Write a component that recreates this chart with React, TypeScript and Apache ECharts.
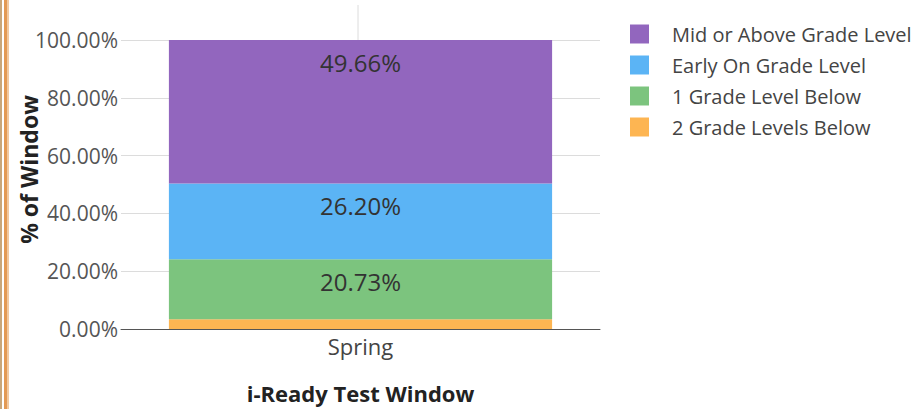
import React, { useEffect, useRef } from "react";
import * as echarts from "echarts";

const categories = ["Spring"];
const seriesNames = [
  "2 Grade Levels Below",
  "1 Grade Level Below",
  "Early On Grade Level",
  "Mid or Above Grade Level",
];
const twoBelow = [3.41];
const oneBelow = [20.73];
const earlyOn = [26.2];
const midAbove = [49.66];
const colors = ["#FDB552", "#7CC47E", "#5BB4F5", "#9266BE"];
const legendOrder = [
  "Mid or Above Grade Level",
  "Early On Grade Level",
  "1 Grade Level Below",
  "2 Grade Levels Below",
];

const FONT = "'Open Sans', 'Noto Sans', sans-serif";

export default function App() {
  const ref = useRef<HTMLDivElement>(null);
  useEffect(() => {
    if (!ref.current) return;
    const chart = echarts.init(ref.current, null, { renderer: "svg" });
    const values = [twoBelow, oneBelow, earlyOn, midAbove];
    chart.setOption({
      animation: false,
      textStyle: { fontFamily: FONT },
      grid: { left: 121, width: 479, top: 40, height: 291 },
      legend: {
        data: legendOrder,
        orient: "vertical",
        left: 630,
        top: 24,
        padding: 0,
        itemWidth: 19,
        itemHeight: 19,
        itemGap: 11,
        icon: "rect",
        textStyle: {
          fontSize: 20,
          lineHeight: 20,
          color: "#444",
          fontFamily: FONT,
          padding: [0, 0, 0, 18],
        },
      },
      xAxis: {
        type: "category",
        data: categories,
        name: "i-Ready Test Window",
        nameLocation: "middle",
        nameGap: 53,
        nameMoveOverlap: false,
        nameTextStyle: { fontSize: 22, fontWeight: "bold", color: "#222", fontFamily: FONT },
        axisLine: { lineStyle: { color: "#555", width: 1 } },
        axisTick: { show: false },
        axisLabel: { fontSize: 22, color: "#444", margin: 6, fontFamily: FONT },
      },
      yAxis: {
        type: "value",
        min: 0,
        max: 100,
        interval: 20,
        name: "% of Window",
        nameLocation: "middle",
        nameGap: 81,
        nameMoveOverlap: false,
        nameTextStyle: {
          fontSize: 23,
          fontWeight: "bold",
          color: "#222",
          fontFamily: FONT,
          padding: [0, 0, 0, 30],
        },
        axisLine: { show: false },
        axisTick: { show: false },
        splitLine: { lineStyle: { color: "#dcdcdc", width: 1 } },
        axisLabel: {
          fontSize: 21,
          color: "#555",
          margin: 3,
          fontFamily: FONT,
          formatter: (v: number) => v.toFixed(2) + "%",
        },
      },
      series: seriesNames.map((name, i) => ({
        name,
        type: "bar",
        stack: "total",
        barWidth: "80%",
        data: values[i],
        itemStyle: { color: colors[i] },
        label: {
          show: i > 0,
          position: "insideTop",
          distance: 10,
          fontSize: 24,
          color: "#333",
          fontFamily: FONT,
          formatter: (p: any) => Number(p.value).toFixed(2) + "%",
        },
      })),
      graphic: [
        { type: "rect", shape: { x: 0, y: 0, width: 2, height: 409 }, style: { fill: "#C9A77A" } },
        { type: "rect", shape: { x: 4, y: 0, width: 3, height: 409 }, style: { fill: "#E39A55" } },
        { type: "rect", shape: { x: 7, y: 0, width: 2, height: 409 }, style: { fill: "#F2C9A0" } },
        {
          type: "line",
          shape: { x1: 358, y1: 5, x2: 358, y2: 40 },
          style: { stroke: "#dcdcdc", lineWidth: 1 },
        },
      ],
    });
    return () => chart.dispose();
  }, []);
  return (
    <div
      ref={ref}
      style={{ position: "fixed", left: 0, top: 0, width: 923, height: 409, background: "#fff" }}
    />
  );
}
